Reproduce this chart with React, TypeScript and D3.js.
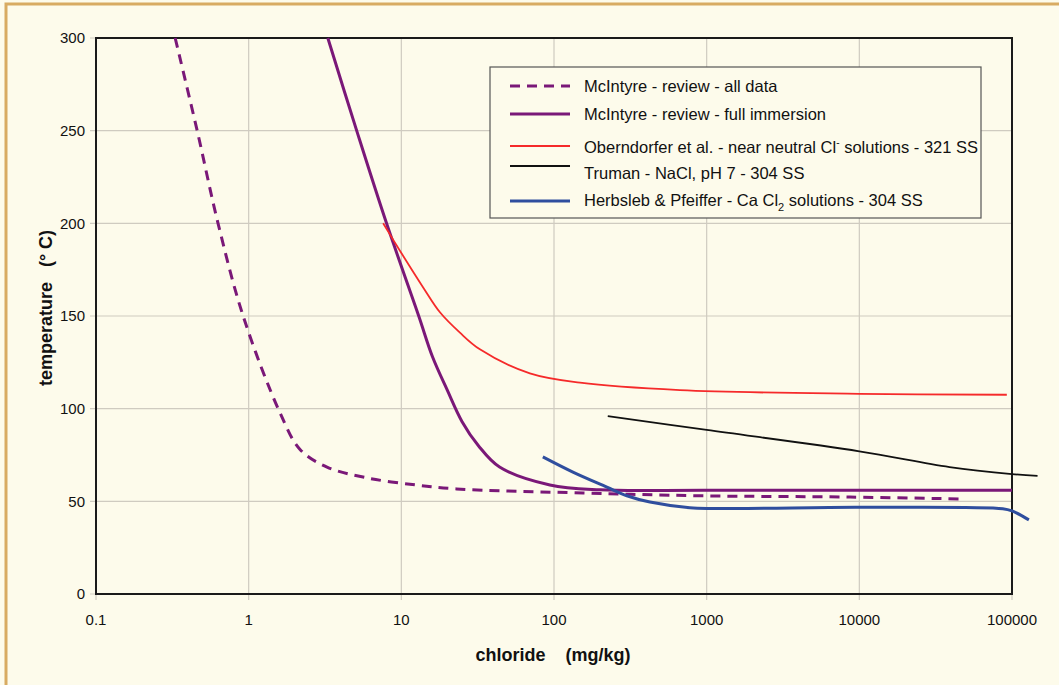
import React from "react";
import * as d3 from "d3";

// chloride (mg/kg) vs temperature (°C)
const allDataX = [0.33, 0.46, 0.63, 0.92, 1.6, 2.17, 3.26, 6, 12.6, 23, 155, 900, 8700, 45500];
const allDataY = [300, 250, 200, 150, 98, 78, 68.5, 62.6, 58.8, 56.7, 54.5, 53, 52.3, 51.3];

const fullImmX = [3.3, 5.1, 8, 13, 16, 20, 25, 32, 44, 94, 200, 1000, 100000];
const fullImmY = [300, 250, 200, 150, 128, 110, 93, 80, 68.5, 58.8, 56.2, 56, 56];

const oberX = [7.6, 10, 14, 17.9, 24.2, 32.7, 69.5, 148, 668, 10000, 92500];
const oberY = [200, 184, 165, 152, 141, 132, 119, 114, 110, 108, 107.5];

const trumanX = [225, 1000, 10000, 39000, 100000, 147000];
const trumanY = [96, 88.5, 77, 68.5, 64.7, 63.7];

const herbX = [84.5, 133, 222, 300, 425, 776, 10000, 87000, 100000, 129000];
const herbY = [74, 65.8, 57.7, 53, 49.6, 46.6, 46.8, 46, 44.8, 40];

const xTicks = [0.1, 1, 10, 100, 1000, 10000, 100000];
const xTickLabels = ["0.1", "1", "10", "100", "1000", "10000", "100000"];
const yTicks = [0, 50, 100, 150, 200, 250, 300];

const W = 1059;
const H = 685;
const left = 96, top = 38, right = 1012, bottom = 594;

const x = d3.scaleLog().domain([0.1, 100000]).range([left, right]);
const y = d3.scaleLinear().domain([0, 300]).range([bottom, top]);

const line = d3
  .line<[number, number]>()
  .x((d) => x(d[0]))
  .y((d) => y(d[1]))
  .curve(d3.curveCatmullRom.alpha(0.5));

const zip = (xs: number[], ys: number[]) => xs.map((v, i) => [v, ys[i]] as [number, number]);

const purple = "#7a1878";
const series = [
  { id: "all", pts: zip(allDataX, allDataY), color: purple, w: 3, dash: "10,7" },
  { id: "full", pts: zip(fullImmX, fullImmY), color: purple, w: 3, dash: null },
  { id: "ober", pts: zip(oberX, oberY), color: "#f52a2a", w: 1.8, dash: null },
  { id: "truman", pts: zip(trumanX, trumanY), color: "#111111", w: 1.8, dash: null },
  { id: "herb", pts: zip(herbX, herbY), color: "#2f4e9e", w: 3, dash: null },
];

const font = "'Liberation Sans', Arial, sans-serif";

export default function App() {
  const legendRows = [
    { s: series[0], ly: 86, ty: 86, label: <tspan>McIntyre - review - all data</tspan> },
    { s: series[1], ly: 114, ty: 114, label: <tspan>McIntyre - review - full immersion</tspan> },
    {
      s: series[2], ly: 146, ty: 147,
      label: (
        <>
          <tspan>Oberndorfer et al. - near neutral Cl</tspan>
          <tspan fontSize={10} dy={-7}>-</tspan>
          <tspan dy={7}> solutions - 321 SS</tspan>
        </>
      ),
    },
    { s: series[3], ly: 166, ty: 173, label: <tspan>Truman - NaCl, pH 7 - 304 SS</tspan> },
    {
      s: series[4], ly: 201, ty: 200,
      label: (
        <>
          <tspan>Herbsleb &amp; Pfeiffer - Ca Cl</tspan>
          <tspan fontSize={11} dy={5}>2</tspan>
          <tspan dy={-5}> solutions - 304 SS</tspan>
        </>
      ),
    },
  ];

  return (
    <svg
      width={W}
      height={H}
      style={{ position: "absolute", left: 0, top: 0, display: "block" }}
      fontFamily={font}
    >
      <rect x={0} y={0} width={W} height={H} fill="#fdfbeb" />
      <rect x={6} y={4} width={W + 10} height={H + 10} fill="none" stroke="#d8ab62" strokeWidth={3} />

      {/* grid */}
      {xTicks.map((t) => (
        <line key={"gx" + t} x1={x(t)} x2={x(t)} y1={top} y2={bottom + 6} stroke="#cfcbc0" strokeWidth={1.2} />
      ))}
      {yTicks.map((t) => (
        <line key={"gy" + t} x1={left - 6} x2={right} y1={y(t)} y2={y(t)} stroke="#cfcbc0" strokeWidth={1.2} />
      ))}

      {/* frame */}
      <rect x={left} y={top} width={right - left} height={bottom - top} fill="none" stroke="#1a1a1a" strokeWidth={2} />

      {/* tick labels */}
      {yTicks.map((t) => (
        <text key={"ty" + t} x={left - 11} y={y(t)} dy="0.35em" textAnchor="end" fontSize={15} fill="#111">
          {t}
        </text>
      ))}
      {xTicks.map((t, i) => (
        <text key={"tx" + t} x={x(t)} y={620} dy="0.35em" textAnchor="middle" fontSize={15} fill="#111">
          {xTickLabels[i]}
        </text>
      ))}

      {/* axis titles */}
      <text
        transform={`translate(46, ${(top + bottom) / 2 - 8}) rotate(-90)`}
        textAnchor="middle"
        dy="0.35em"
        fontSize={18}
        fontWeight="bold"
        fill="#111"
        style={{ whiteSpace: "pre" }}
      >
        {"temperature   (° C)"}
      </text>
      <text
        x={553}
        y={655}
        textAnchor="middle"
        dy="0.35em"
        fontSize={18}
        fontWeight="bold"
        fill="#111"
        style={{ whiteSpace: "pre" }}
      >
        {"chloride    (mg/kg)"}
      </text>

      {/* series */}
      {series.map((s) => (
        <path
          key={s.id}
          d={line(s.pts) || ""}
          fill="none"
          stroke={s.color}
          strokeWidth={s.w}
          strokeDasharray={s.dash || undefined}
        />
      ))}

      {/* legend */}
      <rect x={490} y={67} width={491} height={151} fill="#fdfbeb" stroke="#555" strokeWidth={1.2} />
      {legendRows.map((r) => (
        <g key={"lg" + r.s.id}>
          <line
            x1={510}
            x2={570}
            y1={r.ly}
            y2={r.ly}
            stroke={r.s.color}
            strokeWidth={r.s.w}
            strokeDasharray={r.s.dash || undefined}
          />
          <text x={584} y={r.ty} dy="0.35em" fontSize={16.5} fill="#111">
            {r.label}
          </text>
        </g>
      ))}
    </svg>
  );
}
